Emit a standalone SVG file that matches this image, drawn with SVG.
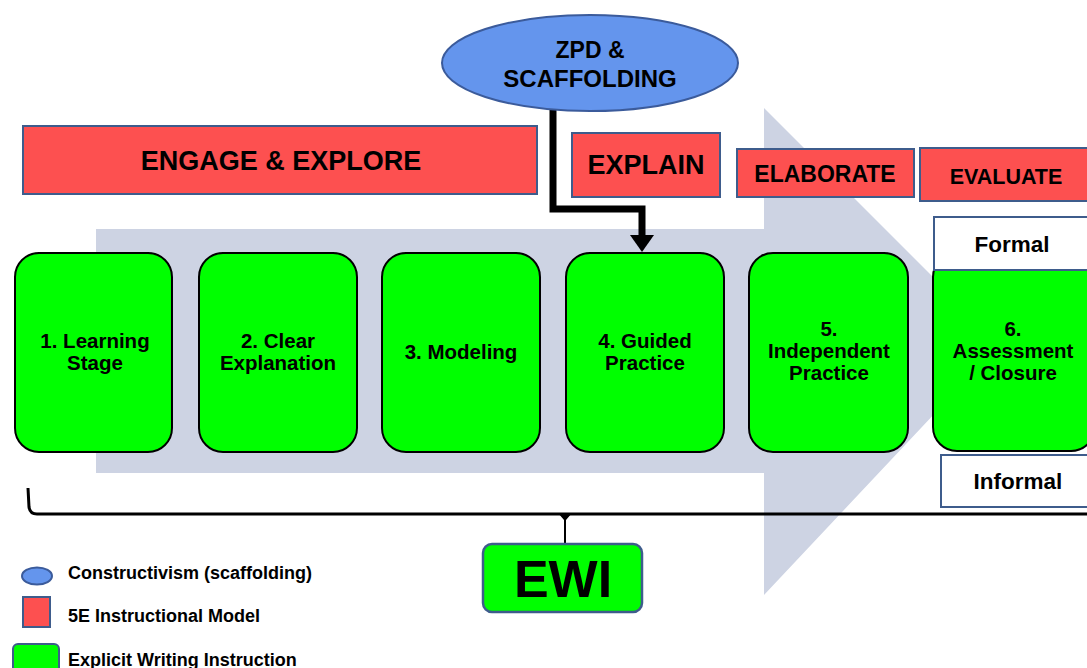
<svg xmlns="http://www.w3.org/2000/svg" width="1087" height="668" viewBox="0 0 1087 668">
<style>
  text { font-family: "Liberation Sans", Arial, sans-serif; font-weight: bold; fill: #000; text-anchor: middle; }
  .red { fill: #FD5050; stroke: #3E5C8C; stroke-width: 2; }
  .green { fill: #00FF00; stroke: #000; stroke-width: 2; }
  .white { fill: #FFFFFF; stroke: #3E5C8C; stroke-width: 2; }
  .ntxt { font-size: 20.5px; }
  .leg { font-size: 18px; text-anchor: start; }
  .conn { fill: none; stroke: #000; }
</style>
<rect width="1087" height="668" fill="#FFFFFF"/>

<!-- big background arrow -->
<polygon id="process-arrow" points="96,229 764,229 764,108 1000,344 764,595 764,473 96,473" fill="#CDD3E3"/>

<!-- connectors -->
<g id="connectors">
  <path class="conn" d="M553,110 L553,209 L642,209 L642,238" stroke-width="7" stroke-linejoin="miter"/>
  <polygon points="630,235 654,235 642,252" fill="#000"/>
  <path class="conn" d="M28,488 L29,507 Q30,514 37,514 L1090,514" stroke-width="3"/>
  <path d="M558,513 L572,513 L566,520 L566,544 L564,544 L564,520 Z" fill="#000"/>
</g>

<!-- ZPD ellipse -->
<g id="zpd">
  <ellipse cx="590" cy="63" rx="148" ry="48" fill="#6495ED" stroke="#3B5B9B" stroke-width="2"/>
  <text x="590" y="58" font-size="23">ZPD &amp;</text>
  <text x="590" y="87" font-size="24">SCAFFOLDING</text>
</g>

<!-- 5E boxes -->
<g id="engage">
  <rect class="red" x="23" y="126" width="514" height="68"/>
  <text x="281" y="170" font-size="27">ENGAGE &amp; EXPLORE</text>
</g>
<g id="explain">
  <rect class="red" x="572" y="133" width="148" height="64"/>
  <text x="646" y="174" font-size="27">EXPLAIN</text>
</g>
<g id="elaborate">
  <rect class="red" x="737" y="149" width="177" height="48"/>
  <text x="825" y="182" font-size="23">ELABORATE</text>
</g>
<g id="evaluate">
  <rect class="red" x="920" y="148" width="175" height="53"/>
  <text x="1006" y="184" font-size="21.5">EVALUATE</text>
</g>

<!-- EWI stage nodes -->
<g id="node1">
  <rect class="green" x="15" y="253" width="157" height="199" rx="24"/>
  <text class="ntxt" x="95" y="348">1. Learning</text>
  <text class="ntxt" x="95" y="370">Stage</text>
</g>
<g id="node2">
  <rect class="green" x="199" y="253" width="158" height="199" rx="24"/>
  <text class="ntxt" x="278" y="348">2. Clear</text>
  <text class="ntxt" x="278" y="370">Explanation</text>
</g>
<g id="node3">
  <rect class="green" x="382" y="253" width="158" height="199" rx="24"/>
  <text class="ntxt" x="461" y="359">3. Modeling</text>
</g>
<g id="node4">
  <rect class="green" x="566" y="253" width="158" height="199" rx="24"/>
  <text class="ntxt" x="645" y="348">4. Guided</text>
  <text class="ntxt" x="645" y="370">Practice</text>
</g>
<g id="node5">
  <rect class="green" x="749" y="253" width="159" height="199" rx="24"/>
  <text class="ntxt" x="829" y="336">5.</text>
  <text class="ntxt" x="829" y="358">Independent</text>
  <text class="ntxt" x="829" y="380">Practice</text>
</g>
<g id="node6">
  <rect class="green" x="933" y="253" width="162" height="198" rx="24"/>
  <text class="ntxt" x="1013" y="336">6.</text>
  <text class="ntxt" x="1013" y="358">Assessment</text>
  <text class="ntxt" x="1013" y="380">/ Closure</text>
</g>

<!-- Formal / Informal -->
<g id="formal">
  <rect class="white" x="934" y="217" width="160" height="53"/>
  <text x="1012" y="252" font-size="22.5">Formal</text>
</g>
<g id="informal">
  <rect class="white" x="941" y="455" width="153" height="52"/>
  <text x="1018" y="489" font-size="22.5">Informal</text>
</g>

<!-- EWI -->
<g id="ewi">
  <rect x="483" y="544" width="159" height="68" rx="9" fill="#00FF00" stroke="#3E5C8C" stroke-width="2.5"/>
  <text x="563" y="597" font-size="52">EWI</text>
</g>

<!-- Legend -->
<g id="legend">
  <ellipse cx="37" cy="576" rx="15" ry="8.5" fill="#6495ED" stroke="#3B5B9B" stroke-width="2"/>
  <text class="leg" x="68" y="579">Constructivism (scaffolding)</text>
  <rect x="23" y="597" width="27" height="30" fill="#FD5050" stroke="#3E5C8C" stroke-width="2"/>
  <text class="leg" x="68" y="622">5E Instructional Model</text>
  <rect x="13" y="644" width="46" height="34" rx="5" fill="#00FF00" stroke="#3E5C8C" stroke-width="2"/>
  <text class="leg" x="68" y="666">Explicit Writing Instruction</text>
</g>
</svg>
